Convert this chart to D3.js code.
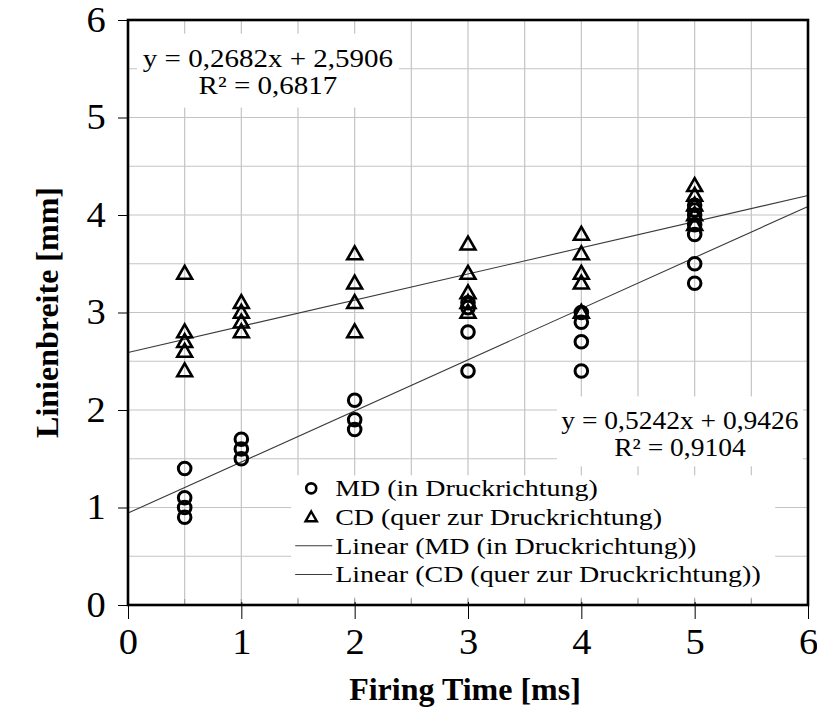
<!DOCTYPE html>
<html>
<head>
<meta charset="utf-8">
<script src="https://cdn.jsdelivr.net/npm/d3@7"></script>
<style>
  body { margin: 0; background: #fff; }
  svg { display: block; }
</style>
</head>
<body>
<div id="chart"></div>
<script>
var mdX = [0.5, 0.5, 0.5, 0.5, 1, 1, 1, 2, 2, 2, 3, 3, 3, 3, 4, 4, 4, 4, 5, 5, 5, 5, 5, 5, 5];
var mdY = [1.4, 1.1, 1.0, 0.9, 1.7, 1.6, 1.5, 2.1, 1.9, 1.8, 3.1, 3.05, 2.8, 2.4, 3.0, 2.9, 2.7, 2.4, 4.1, 4.05, 4.0, 3.9, 3.8, 3.5, 3.3];
var cdX = [0.5, 0.5, 0.5, 0.5, 0.5, 1, 1, 1, 1, 2, 2, 2, 2, 3, 3, 3, 3, 3, 4, 4, 4, 4, 4, 5, 5, 5, 5, 5];
var cdY = [3.4, 2.8, 2.7, 2.6, 2.4, 3.1, 3.0, 2.9, 2.8, 3.6, 3.3, 3.1, 2.8, 3.7, 3.4, 3.2, 3.1, 3.0, 3.8, 3.6, 3.4, 3.3, 3.0, 4.3, 4.2, 4.1, 4.0, 3.9];

// trendlines: [slope, intercept]
var mdFit = [0.5242, 0.9426];
var cdFit = [0.2682, 2.5906];
var mdLabel = ['y = 0,5242x + 0,9426', 'R² = 0,9104'];
var cdLabel = ['y = 0,2682x + 2,5906', 'R² = 0,6817'];

var xTicks = [0, 1, 2, 3, 4, 5, 6];
var yTicks = [0, 1, 2, 3, 4, 5, 6];
var gridSteps = [0, 0.5, 1, 1.5, 2, 2.5, 3, 3.5, 4, 4.5, 5, 5.5, 6];

var legendNames = ['MD (in Druckrichtung)', 'CD (quer zur Druckrichtung)',
                   'Linear (MD (in Druckrichtung))', 'Linear (CD (quer zur Druckrichtung))'];

var W = 817, H = 713;
var margin = { top: 20, right: 9, bottom: 108, left: 128 };
var width = W - margin.left - margin.right,
    height = H - margin.top - margin.bottom;

var font = '"Liberation Serif", "DejaVu Serif", serif';

var svg = d3.select('#chart').append('svg')
    .attr('width', W)
    .attr('height', H);

var g = svg.append('g')
    .attr('transform', 'translate(' + margin.left + ',' + margin.top + ')');

var x = d3.scaleLinear().domain([0, 6]).range([0, width]);
var y = d3.scaleLinear().domain([0, 6]).range([height, 0]);

// widen the narrow serif a bit (reference font is wider)
function stretch(sel, k) {
    sel.each(function() {
        var w = this.getComputedTextLength();
        d3.select(this).attr('textLength', w * k).attr('lengthAdjust', 'spacingAndGlyphs');
    });
}

// grid
g.append('g').selectAll('line').data(gridSteps).enter().append('line')
    .attr('x1', function(d) { return x(d); })
    .attr('x2', function(d) { return x(d); })
    .attr('y1', 0).attr('y2', height)
    .style('stroke', '#c4c4c4').style('stroke-width', 1.2);
g.append('g').selectAll('line').data(gridSteps).enter().append('line')
    .attr('y1', function(d) { return y(d); })
    .attr('y2', function(d) { return y(d); })
    .attr('x1', 0).attr('x2', width)
    .style('stroke', '#c4c4c4').style('stroke-width', 1.2);

// trendlines
function fitLine(fit) {
    return d3.line()
        .x(function(d) { return x(d); })
        .y(function(d) { return y(fit[0] * d + fit[1]); })([0, 6]);
}
g.append('path').attr('d', fitLine(mdFit))
    .style('fill', 'none').style('stroke', '#3a3a3a').style('stroke-width', 1.1);
g.append('path').attr('d', fitLine(cdFit))
    .style('fill', 'none').style('stroke', '#3a3a3a').style('stroke-width', 1.1);

// markers
var tri = d3.symbol().type(d3.symbolTriangle).size(95);

g.append('g').selectAll('path').data(d3.range(cdX.length)).enter().append('path')
    .attr('d', tri)
    .attr('transform', function(i) { return 'translate(' + x(cdX[i]) + ',' + (y(cdY[i]) + 1) + ')'; })
    .style('fill', 'none').style('stroke', '#000').style('stroke-width', 2.6);

g.append('g').selectAll('circle').data(d3.range(mdX.length)).enter().append('circle')
    .attr('cx', function(i) { return x(mdX[i]); })
    .attr('cy', function(i) { return y(mdY[i]); })
    .attr('r', 6.3)
    .style('fill', 'none').style('stroke', '#000').style('stroke-width', 3);

// equation labels
function eqBox(lines, cx, top, bw, bh, k) {
    g.append('rect')
        .attr('x', cx - bw / 2).attr('y', top)
        .attr('width', bw).attr('height', bh)
        .style('fill', '#fff');
    g.append('g').selectAll('text').data(lines).enter().append('text')
        .attr('x', cx)
        .attr('y', function(d, i) { return top + 33 + i * 27; })
        .attr('text-anchor', 'middle')
        .style('font-family', font)
        .style('font-size', '25px')
        .text(function(d) { return d; })
        .call(stretch, k);
}
eqBox(cdLabel, x(1.235), y(5.86), 262, 74, 1.16);
eqBox(mdLabel, x(4.87), y(2.14), 246, 70, 1.1);

// legend
var lg = g.append('g').attr('transform', 'translate(' + (x(1.44)) + ',' + y(1.33) + ')');
lg.append('rect').attr('x', 0).attr('y', 0).attr('width', 484).attr('height', 122)
    .style('fill', '#fff');
var rowH = 28.7;
lg.selectAll('text').data(legendNames).enter().append('text')
    .attr('x', 44)
    .attr('y', function(d, i) { return 21 + i * rowH; })
    .style('font-family', font)
    .style('font-size', '23.5px')
    .text(function(d) { return d; })
    .call(stretch, 1.19);
lg.append('circle').attr('cx', 20).attr('cy', 13).attr('r', 5)
    .style('fill', 'none').style('stroke', '#000').style('stroke-width', 2.6);
lg.append('path').attr('d', d3.symbol().type(d3.symbolTriangle).size(55))
    .attr('transform', 'translate(20,' + (14 + rowH) + ')')
    .style('fill', 'none').style('stroke', '#000').style('stroke-width', 2.4);
[2, 3].forEach(function(i) {
    lg.append('line')
        .attr('x1', 4).attr('x2', 41)
        .attr('y1', 13 + i * rowH).attr('y2', 13 + i * rowH)
        .style('stroke', '#3a3a3a').style('stroke-width', 1.1);
});

// minor inner ticks
g.append('g').selectAll('line').data(gridSteps).enter().append('line')
    .attr('x1', function(d) { return x(d); }).attr('x2', function(d) { return x(d); })
    .attr('y1', height).attr('y2', height - 6)
    .style('stroke', '#999');

// axes
var xAxis = d3.axisBottom(x).tickValues(xTicks).tickSize(14).tickPadding(10).tickFormat(d3.format('d'));
var yAxis = d3.axisLeft(y).tickValues(yTicks).tickSize(10).tickPadding(10).tickFormat(d3.format('d'));

var xg = g.append('g').attr('transform', 'translate(0,' + height + ')').call(xAxis);
var yg = g.append('g').call(yAxis);
[xg, yg].forEach(function(a) {
    a.select('.domain').remove();
    a.selectAll('line').style('stroke', '#000').style('stroke-width', 1);
    a.selectAll('text')
        .style('font-family', font)
        .style('font-size', '35px')
        .style('fill', '#000')
        .call(stretch, 1.1);
});
xg.selectAll('line').attr('y1', -3);
xg.selectAll('text').attr('y', 24);
yg.selectAll('text').attr('x', -32).attr('text-anchor', 'middle');

// plot frame
g.append('rect').attr('x', 0).attr('y', 0).attr('width', width).attr('height', height)
    .style('fill', 'none').style('stroke', '#000').style('stroke-width', 2.6);

// axis titles
svg.append('text')
    .attr('x', margin.left + width / 2 - 3)
    .attr('y', 700)
    .attr('text-anchor', 'middle')
    .style('font-family', font)
    .style('font-weight', 'bold')
    .style('font-size', '32px')
    .text('Firing Time [ms]');

svg.append('text')
    .attr('transform', 'translate(58,' + (margin.top + height / 2) + ') rotate(-90)')
    .attr('text-anchor', 'middle')
    .style('font-family', font)
    .style('font-weight', 'bold')
    .style('font-size', '32px')
    .text('Linienbreite [mm]');
</script>
</body>
</html>
